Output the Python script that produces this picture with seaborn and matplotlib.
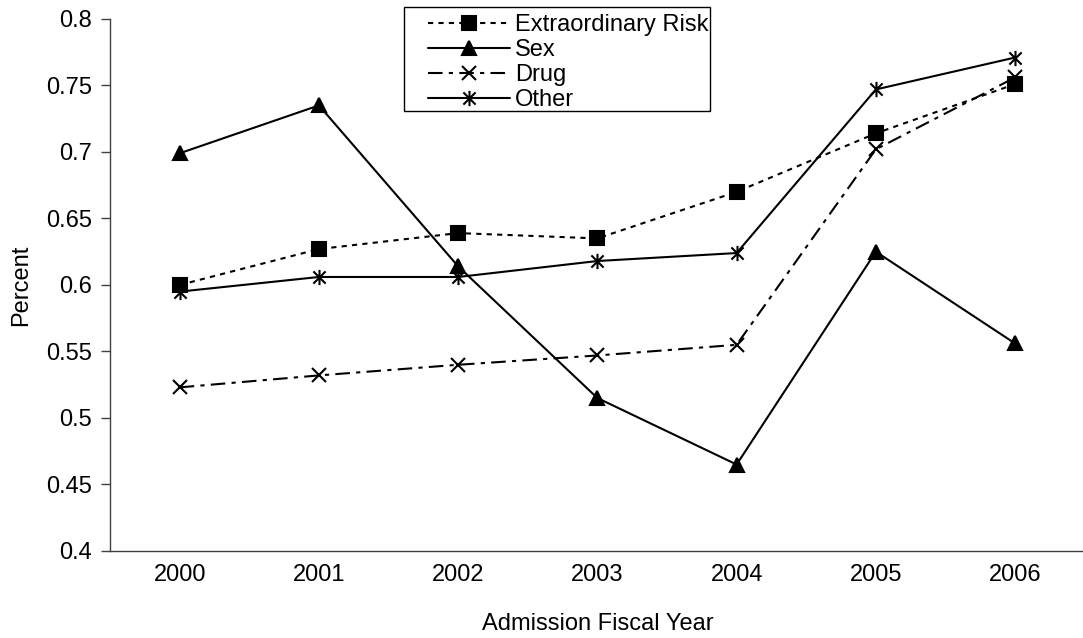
import numpy as np
import pandas as pd
import seaborn as sns
import matplotlib.pyplot as plt
from matplotlib.path import Path
from matplotlib.patches import Rectangle
from matplotlib.ticker import FixedLocator, FuncFormatter

# values
years = ["2000", "2001", "2002", "2003", "2004", "2005", "2006"]
extraordinary_risk = [0.600, 0.627, 0.639, 0.635, 0.670, 0.714, 0.751]
sex = [0.699, 0.735, 0.614, 0.515, 0.465, 0.625, 0.556]
drug = [0.523, 0.532, 0.540, 0.547, 0.555, 0.702, 0.756]
other = [0.595, 0.606, 0.606, 0.618, 0.624, 0.747, 0.771]

series_names = ["Extraordinary Risk", "Sex", "Drug", "Other"]
series_values = [extraordinary_risk, sex, drug, other]

sns.set_style("white")
plt.rcParams["font.family"] = ["Liberation Sans", "DejaVu Sans"]
plt.rcParams["text.color"] = "black"
plt.rcParams["axes.labelcolor"] = "black"
plt.rcParams["xtick.color"] = "black"
plt.rcParams["ytick.color"] = "black"

frames = []
for name, vals in zip(series_names, series_values):
    frames.append(pd.DataFrame({"year": years, "pos": np.arange(len(years)),
                                "value": vals, "series": name}))
df = pd.concat(frames, ignore_index=True)

# Excel-like asterisk: vertical bar plus an X
star = Path([(0, -1), (0, 1), (-0.8, -0.8), (0.8, 0.8), (-0.8, 0.8), (0.8, -0.8)],
            [Path.MOVETO, Path.LINETO] * 3)

styles = {
    "Extraordinary Risk": dict(marker="s", ms=9.5, ls=(0, (2.5, 2.5))),
    "Sex": dict(marker="^", ms=10.5, ls="-"),
    "Drug": dict(marker="x", ms=10, ls=(0, (7, 3, 2, 3))),
    "Other": dict(marker=star, ms=11, ls="-"),
}

W, H = 1083, 638
fs = 17
fig = plt.figure(figsize=(W / 100, H / 100), dpi=100)
ax = fig.add_axes([0.1016, 0.1364, 0.9, 0.8339])

for name in series_names:
    st = styles[name]
    sub = df[df["series"] == name]
    sns.lineplot(data=sub, x="pos", y="value", ax=ax, color="black",
                 linewidth=1.5, linestyle=st["ls"], marker=st["marker"],
                 markersize=st["ms"], markeredgewidth=1.5,
                 markerfacecolor="black", markeredgecolor="black",
                 label=name)

ax.set_xlim(-0.5, 6.5)
ax.set_ylim(0.4, 0.8)
ax.set_yticks(np.arange(0.4, 0.8001, 0.05))
ax.yaxis.set_major_formatter(FuncFormatter(lambda v, p: f"{v:.2f}".rstrip("0")))
ax.set_xticks(np.arange(len(years)))
ax.set_xticklabels(years)
ax.xaxis.set_minor_locator(FixedLocator(np.arange(-0.5, 6.6, 1.0)))
ax.tick_params(axis="x", which="major", length=0, pad=9.5, labelsize=fs)
ax.tick_params(axis="x", which="minor", length=5, width=1, color="#404040",
               direction="out")
ax.tick_params(axis="y", length=6.5, width=1, color="#404040", direction="out",
               pad=6.5, labelsize=fs, left=True)

for side in ["top", "right"]:
    ax.spines[side].set_visible(False)
for side in ["left", "bottom"]:
    ax.spines[side].set_color("#404040")
    ax.spines[side].set_linewidth(1)

ax.set_xlabel("Admission Fiscal Year", fontsize=fs, labelpad=19)
ax.set_ylabel("Percent", fontsize=fs, labelpad=10)

# legend: frameless entries inside a hand-placed Excel-style box
leg = ax.legend(loc="upper left", bbox_to_anchor=(428 / W, 1 - 14 / H),
                bbox_transform=fig.transFigure, fontsize=fs, frameon=False,
                handlelength=82 / (fs * 100 / 72), handletextpad=0.22,
                labelspacing=0.125, borderpad=0, borderaxespad=0)
for h, name in zip(leg.legend_handles, series_names):
    h.set_markersize(styles[name]["ms"])
fig.patches.append(Rectangle((404 / W, 1 - 111 / H), 306 / W, 104 / H,
                             transform=fig.transFigure, fill=False,
                             edgecolor="black", linewidth=1))

fig.savefig("out.png", dpi=100, facecolor="white")
